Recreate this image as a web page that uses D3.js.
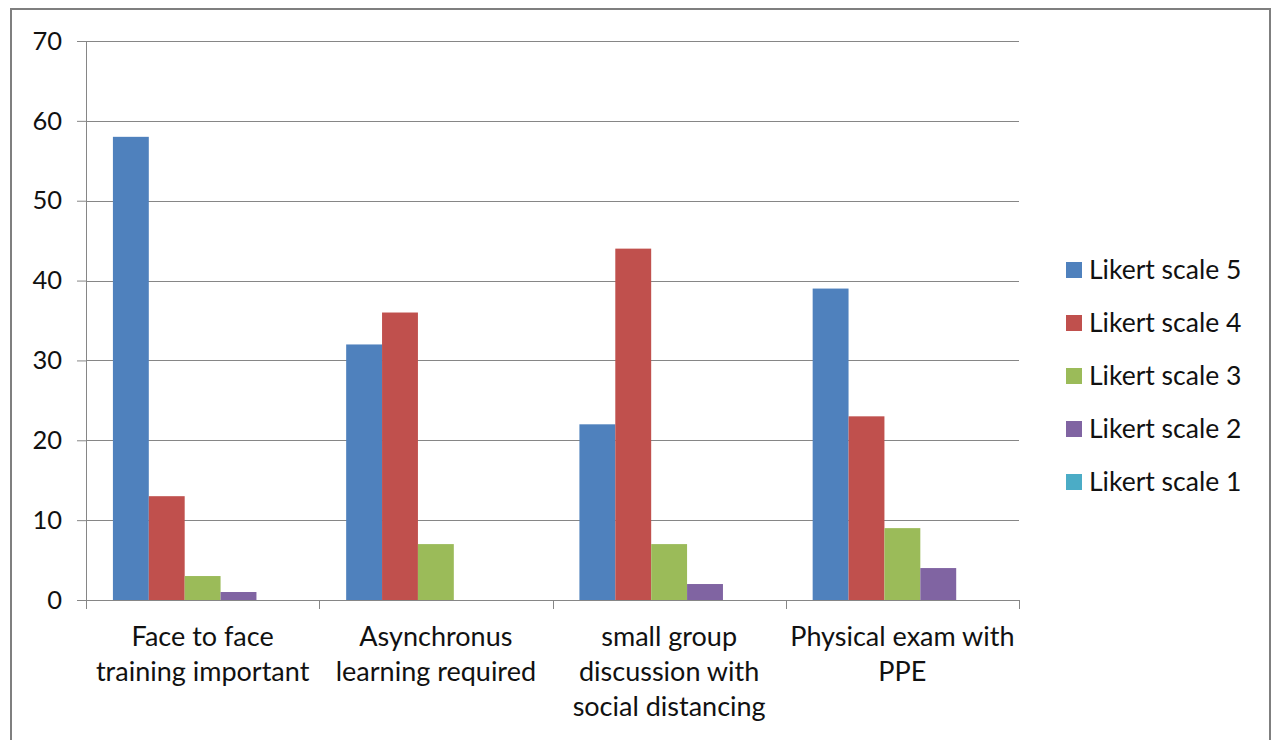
<!DOCTYPE html>
<html>
<head>
<meta charset="utf-8">
<script src="https://cdn.jsdelivr.net/npm/d3@7"></script>
<style>
  body { margin: 0; background: #fff; }
  svg text { font-family: Lato, "Open Sans", sans-serif; fill: #111; }
</style>
</head>
<body>
<svg id="chart" width="1272" height="740"></svg>
<script>
// data
const categories = [
  ["Face to face", "training important"],
  ["Asynchronus", "learning required"],
  ["small group", "discussion with", "social distancing"],
  ["Physical exam with", "PPE"]
];
const seriesNames  = ["Likert scale 5", "Likert scale 4", "Likert scale 3", "Likert scale 2", "Likert scale 1"];
const seriesColors = ["#4F81BD", "#C0504D", "#9BBB59", "#8064A2", "#4BACC6"];
const scale5 = [58, 32, 22, 39];
const scale4 = [13, 36, 44, 23];
const scale3 = [3, 7, 7, 9];
const scale2 = [1, 0, 2, 4];
const scale1 = [0, 0, 0, 0];
const yTicks = [0, 10, 20, 30, 40, 50, 60, 70];

const values = [scale5, scale4, scale3, scale2, scale1];

const svg = d3.select("#chart");

// outer frame
svg.append("rect")
  .attr("x", 11).attr("y", 9)
  .attr("width", 1259).attr("height", 740)
  .attr("fill", "#fff")
  .attr("stroke", "#7f7f7f")
  .attr("stroke-width", 2);

const plot = { left: 86, right: 1019, top: 41, bottom: 600 };

const y = d3.scaleLinear().domain([0, 70]).range([plot.bottom, plot.top]);
const x0 = d3.scaleBand().domain(d3.range(categories.length)).range([plot.left, plot.right]);
// excel gap width 150% -> outer padding per side of 0.75 bar
const x1 = d3.scaleBand().domain(d3.range(seriesNames.length))
  .range([0, x0.bandwidth()]).paddingOuter(0.75).paddingInner(0);

// gridlines + y axis
const yAxis = d3.axisLeft(y).tickValues(yTicks).tickSize(9).tickPadding(15);
const gy = svg.append("g").attr("transform", `translate(${plot.left},0)`).call(yAxis);
gy.select(".domain").attr("stroke", "#868686");
gy.selectAll(".tick line").attr("stroke", "#868686");
gy.selectAll(".tick text").style("font-size", "25.5px").style("font-family", "Lato, sans-serif").attr("fill", "#111");

svg.append("g").selectAll("line")
  .data(yTicks.filter(d => d > 0))
  .join("line")
  .attr("x1", plot.left).attr("x2", plot.right)
  .attr("y1", d => Math.round(y(d)) + 0.5).attr("y2", d => Math.round(y(d)) + 0.5)
  .attr("stroke", "#868686");

// bars
const groups = svg.append("g").selectAll("g")
  .data(categories.map((c, i) => i))
  .join("g")
  .attr("transform", i => `translate(${x0(i)},0)`);

groups.selectAll("rect")
  .data(i => values.map((s, k) => ({ k, v: s[i] })))
  .join("rect")
  .attr("x", d => x1(d.k))
  .attr("width", x1.bandwidth())
  .attr("y", d => y(d.v))
  .attr("height", d => plot.bottom - y(d.v))
  .attr("fill", d => seriesColors[d.k]);

// x axis
const xAxisLine = svg.append("g");
xAxisLine.append("line")
  .attr("x1", plot.left - 9).attr("x2", plot.right)
  .attr("y1", plot.bottom + 0.5).attr("y2", plot.bottom + 0.5)
  .attr("stroke", "#868686");
xAxisLine.selectAll(".ct")
  .data(d3.range(categories.length + 1))
  .join("line")
  .attr("class", "ct")
  .attr("x1", i => Math.round(plot.left + i * x0.step()) + 0.5)
  .attr("x2", i => Math.round(plot.left + i * x0.step()) + 0.5)
  .attr("y1", plot.bottom).attr("y2", plot.bottom + 9)
  .attr("stroke", "#868686");

// category labels
svg.append("g").selectAll("text")
  .data(categories.map((c, i) => i))
  .join("text")
  .attr("text-anchor", "middle")
  .style("font-size", "27px")
  .attr("transform", i => `translate(${x0(i) + x0.bandwidth() / 2},646)`)
  .each(function(i) {
    d3.select(this).selectAll("tspan")
      .data(categories[i])
      .join("tspan")
      .attr("x", 0)
      .attr("y", (d, j) => j * 35)
      .text(d => d);
  });

// legend
const legend = svg.append("g").attr("transform", "translate(1066,270)");
const lg = legend.selectAll("g")
  .data(seriesNames)
  .join("g")
  .attr("transform", (d, i) => `translate(0,${i * 53})`);
lg.append("rect")
  .attr("x", 0).attr("y", -8)
  .attr("width", 16).attr("height", 16)
  .attr("fill", (d, i) => seriesColors[i]);
lg.append("text")
  .attr("x", 23).attr("dy", "0.35em")
  .style("font-size", "26.5px")
  .text(d => d);
</script>
</body>
</html>
